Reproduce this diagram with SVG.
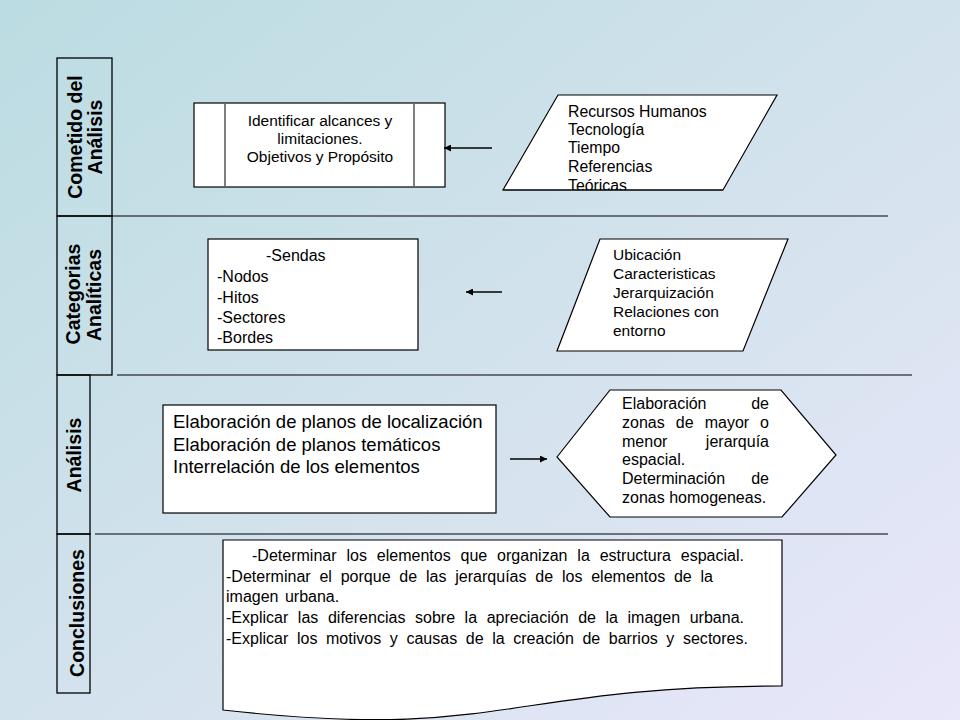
<svg xmlns="http://www.w3.org/2000/svg" width="960" height="720" viewBox="0 0 960 720">
<defs>
<linearGradient id="bg" x1="0" y1="0" x2="1" y2="1">
<stop offset="0" stop-color="#BBDCE2"/>
<stop offset="0.5" stop-color="#D2E2EC"/>
<stop offset="1" stop-color="#E9E7FA"/>
</linearGradient>
<marker id="ah" viewBox="0 0 10 10" refX="10" refY="5" markerWidth="9" markerHeight="7" markerUnits="userSpaceOnUse" orient="auto">
<path d="M0,0 L10,5 L0,10 z" fill="#000"/>
</marker>
<clipPath id="clipP1"><polygon points="558,95 777,95 723,190 503,190"/></clipPath>
</defs>
<style>
.lane{fill:none;stroke:#000;stroke-width:1.3}
.sep{stroke:#000;stroke-width:1.2;fill:none}
.shape{fill:#fff;stroke:#000;stroke-width:1.2}
.inner{stroke:#7f7f7f;stroke-width:2;fill:none}
.lbl{font-family:"Liberation Sans",Arial,sans-serif;font-weight:bold;font-size:19.5px;fill:#000}
.t{font-family:"Liberation Sans",Arial,sans-serif;fill:#000}
.conn{stroke:#000;stroke-width:1.3;fill:none;marker-end:url(#ah)}
</style>
<rect x="0" y="0" width="960" height="720" fill="url(#bg)"/>

<g id="lanes">
<rect class="lane" x="57" y="58" width="55" height="158"/>
<rect class="lane" x="57" y="216" width="55" height="159"/>
<rect class="lane" x="57" y="375" width="33" height="159"/>
<rect class="lane" x="57" y="534" width="33" height="159"/>
<line class="sep" x1="112" y1="216" x2="888" y2="216"/>
<line class="sep" x1="117" y1="375" x2="912" y2="375"/>
<line class="sep" x1="95" y1="534" x2="888" y2="534"/>
</g>

<g id="lane-labels">
<text class="lbl" text-anchor="middle" transform="translate(82,137) rotate(-90)">Cometido del</text>
<text class="lbl" text-anchor="middle" transform="translate(102,137) rotate(-90)">Análisis</text>
<text class="lbl" text-anchor="middle" transform="translate(80,294) rotate(-90)">Categorias</text>
<text class="lbl" text-anchor="middle" transform="translate(101,295) rotate(-90)">Analíticas</text>
<text class="lbl" text-anchor="middle" transform="translate(81,455) rotate(-90)">Análisis</text>
<text class="lbl" text-anchor="middle" transform="translate(84,613) rotate(-90)">Conclusiones</text>
</g>

<g id="n-objetivos">
<rect class="shape" x="194" y="103" width="251" height="84"/>
<line class="inner" x1="225" y1="104" x2="225" y2="186"/>
<line class="inner" x1="414" y1="104" x2="414" y2="186"/>
<text class="t" font-size="15.5" text-anchor="middle"><tspan x="320" y="126">Identificar alcances y</tspan><tspan x="320" y="144">limitaciones.</tspan><tspan x="320" y="162">Objetivos y Propósito</tspan></text>
</g>

<g id="n-recursos">
<polygon class="shape" points="558,95 777,95 723,190 503,190"/>
<g clip-path="url(#clipP1)">
<text class="t" font-size="15.8"><tspan x="568" y="117">Recursos Humanos</tspan><tspan x="568" y="135">Tecnología</tspan><tspan x="568" y="153">Tiempo</tspan><tspan x="568" y="172">Referencias</tspan><tspan x="568" y="190.5">Teóricas</tspan></text>
</g>
<line x1="503" y1="190" x2="723" y2="190" stroke="#000" stroke-width="1.2"/>
</g>

<g id="n-categorias">
<rect class="shape" x="208" y="239" width="210" height="111"/>
<text class="t" font-size="16"><tspan x="266" y="261">-Sendas</tspan><tspan x="217" y="282">-Nodos</tspan><tspan x="217" y="303">-Hitos</tspan><tspan x="217" y="323">-Sectores</tspan><tspan x="217" y="343">-Bordes</tspan></text>
</g>

<g id="n-ubicacion">
<polygon class="shape" points="600,239 788,239 743,351 557,351"/>
<text class="t" font-size="15.5"><tspan x="613" y="260">Ubicación</tspan><tspan x="613" y="279">Caracteristicas</tspan><tspan x="613" y="298">Jerarquización</tspan><tspan x="613" y="317">Relaciones con</tspan><tspan x="613" y="336">entorno</tspan></text>
</g>

<g id="n-planos">
<rect class="shape" x="163" y="405" width="333" height="108"/>
<text class="t" font-size="18.5"><tspan x="173" y="428">Elaboración de planos de localización</tspan><tspan x="173" y="451">Elaboración de planos temáticos</tspan><tspan x="173" y="473">Interrelación de los elementos</tspan></text>
</g>

<g id="n-zonas">
<polygon class="shape" points="557,457 610,390 781,390 836,455 782,517 610,517"/>
<g class="t" font-size="16">
<text x="622" y="409">Elaboración</text><text x="769" y="409" text-anchor="end">de</text>
<text x="622" y="428">zonas</text><text x="675.8" y="428">de</text><text x="704.7" y="428">mayor</text><text x="769" y="428" text-anchor="end">o</text>
<text x="622" y="447">menor</text><text x="769" y="447" text-anchor="end">jerarquía</text>
<text x="622" y="465">espacial.</text>
<text x="622" y="484">Determinación</text><text x="769" y="484" text-anchor="end">de</text>
<text x="622" y="503">zonas homogeneas.</text>
</g>
</g>

<g id="n-conclusiones">
<path class="shape" d="M223,540 L782,540 L782,686 C502.5,686 502.5,741.6 223,710 Z"/>
<g class="t" font-size="16">
<text x="252" y="561" word-spacing="5.4" textLength="492" lengthAdjust="spacing">-Determinar los elementos que organizan la estructura espacial.</text>
<text x="226" y="582" word-spacing="4.3" textLength="487" lengthAdjust="spacing">-Determinar el porque de las jerarquías de los elementos de la</text>
<text x="226" y="602" word-spacing="2">imagen urbana.</text>
<text x="226" y="623" word-spacing="5.1" textLength="518" lengthAdjust="spacing">-Explicar las diferencias sobre la apreciación de la imagen urbana.</text>
<text x="226" y="644" word-spacing="4.1" textLength="522" lengthAdjust="spacing">-Explicar los motivos y causas de la creación de barrios y sectores.</text>
</g>
</g>

<g id="connectors">
<line class="conn" x1="492" y1="148" x2="444" y2="148"/>
<line class="conn" x1="502" y1="292" x2="466" y2="292"/>
<line class="conn" x1="510" y1="459" x2="547" y2="459"/>
</g>
</svg>
